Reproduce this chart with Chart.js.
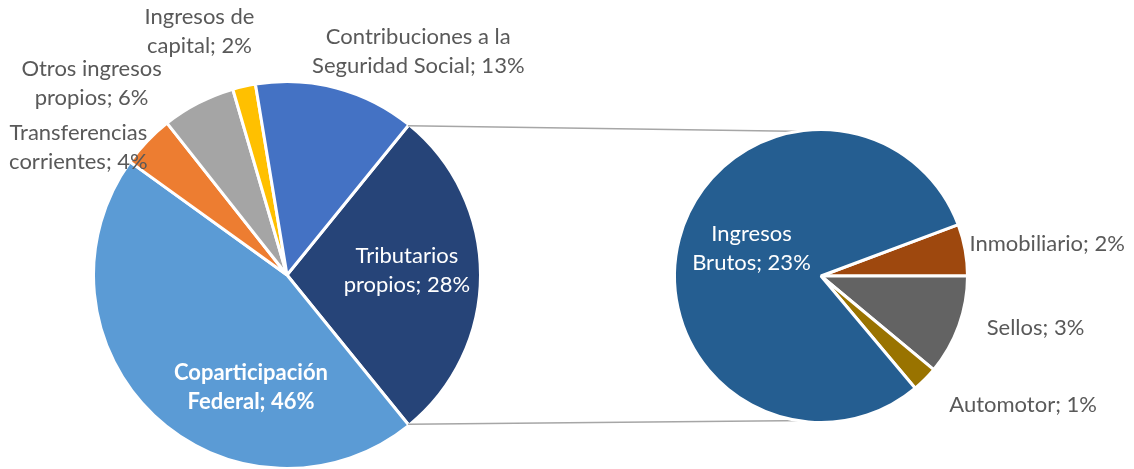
<!DOCTYPE html>
<html lang="es">
<head>
<meta charset="UTF-8">
<title>Composición de los ingresos</title>
<script src="https://cdn.jsdelivr.net/npm/chart.js@4.4.1/dist/chart.umd.min.js"></script>
<style>
  body { margin: 0; background: #fff; }
  .wrap { position: relative; width: 1134px; height: 469px; }
  .wrap canvas { position: absolute; left: 0; top: 0; }
</style>
</head>
<body>
<div class="wrap">
  <canvas id="mainPie" width="1134" height="469"></canvas>
  <canvas id="detailPie" width="1134" height="469"></canvas>
</div>
<script>
// Torta principal: % sobre el total de ingresos
const mainLabels = [
  ['Tributarios', 'propios'],
  ['Coparticipación', 'Federal'],
  ['Transferencias', 'corrientes'],
  ['Otros ingresos', 'propios'],
  ['Ingresos de', 'capital'],
  ['Contribuciones a la', 'Seguridad Social']
];
const mainValues = [28.2, 45.6, 4.4, 6.1, 1.9, 13.4];
const mainColors = ['#264478', '#5B9BD5', '#ED7D31', '#A5A5A5', '#FFC000', '#4472C4'];

// Apertura de "Tributarios propios" (también en % del total)
const detailLabels = ['Inmobiliario', 'Sellos', 'Automotor', ['Ingresos', 'Brutos']];
const detailValues = [1.6, 3.1, 0.8, 22.6];
const detailColors = ['#9E480E', '#636363', '#997300', '#255E91'];

const FONT_SIZE = 22;
const LINE_H = 29;
const GREY = '#595959';

// ubicación de etiquetas: distancia (x radio) y giro respecto del ángulo medio
const mainPlace = [
  { r: 0.62, shift: -2, color: '#fff' },
  { r: 0.61, shift: -25.6, color: '#fff', bold: true },
  { r: 1.265, shift: -12.2 },
  { r: 1.414, shift: -18.3 },
  { r: 1.34, shift: -6.9 },
  { r: 1.34, shift: 15.6 }
];
const detailPlace = [
  { r: 1.037, shift: -2, align: 'left' },
  { r: 1.184, shift: -2.6, align: 'left' },
  { r: 1.239, shift: 0.2, align: 'left' },
  { r: 0.51, shift: 6.7, color: '#fff' }
];

function sliceLabels(place) {
  return {
    id: 'sliceLabels',
    afterDatasetsDraw(chart) {
      const ctx = chart.ctx;
      const values = chart.data.datasets[0].data;
      chart.getDatasetMeta(0).data.forEach((arc, i) => {
        const p = place[i];
        const ang = (arc.startAngle + arc.endAngle) / 2 + p.shift * Math.PI / 180;
        const dist = arc.outerRadius * p.r;
        const x = arc.x + Math.cos(ang) * dist;
        const y = arc.y + Math.sin(ang) * dist;
        const lines = [].concat(chart.data.labels[i]);
        lines[lines.length - 1] += '; ' + Math.round(values[i]) + '%';
        ctx.save();
        ctx.font = (p.bold ? 'bold ' : '') + FONT_SIZE + 'px Lato';
        ctx.fillStyle = p.color || GREY;
        ctx.textAlign = p.align || 'center';
        ctx.textBaseline = 'middle';
        const y0 = y - (lines.length - 1) * LINE_H / 2;
        lines.forEach((t, k) => ctx.fillText(t, x, y0 + k * LINE_H));
        ctx.restore();
      });
    }
  };
}

const mainChart = new Chart(document.getElementById('mainPie'), {
  type: 'pie',
  data: {
    labels: mainLabels,
    datasets: [{
      data: mainValues,
      backgroundColor: mainColors,
      borderColor: '#fff',
      borderWidth: 3,
      // la porción que se abre queda centrada a las 3 en punto
      rotation: 90 - 180 * mainValues[0] / mainValues.reduce((a, b) => a + b, 0),
      radius: 193.5
    }]
  },
  options: {
    responsive: false,
    animation: false,
    layout: { padding: { left: 80, right: 640, top: 81, bottom: 0 } },
    plugins: { legend: { display: false }, tooltip: { enabled: false } }
  },
  plugins: [sliceLabels(mainPlace)]
});

// líneas que unen la porción "Tributarios propios" con la torta secundaria
const connectors = {
  id: 'connectors',
  beforeDatasetsDraw(chart) {
    const src = mainChart.getDatasetMeta(0).data[0];
    const dst = chart.getDatasetMeta(0).data[0];
    const rs = src.outerRadius - 1.5;
    const rd = dst.outerRadius - 1.5;
    const a = 94.5 * Math.PI / 180;
    const ctx = chart.ctx;
    ctx.save();
    ctx.strokeStyle = '#A6A6A6';
    ctx.lineWidth = 1.5;
    ctx.beginPath();
    [[src.startAngle, -a], [src.endAngle, a]].forEach(([sa, da]) => {
      ctx.moveTo(src.x + rs * Math.cos(sa), src.y + rs * Math.sin(sa));
      ctx.lineTo(dst.x + rd * Math.cos(da), dst.y + rd * Math.sin(da));
    });
    ctx.stroke();
    ctx.restore();
  }
};

const detailChart = new Chart(document.getElementById('detailPie'), {
  type: 'pie',
  data: {
    labels: detailLabels,
    datasets: [{
      data: detailValues,
      backgroundColor: detailColors,
      borderColor: '#fff',
      borderWidth: 3,
      rotation: 69.5,
      radius: 146.5
    }]
  },
  options: {
    responsive: false,
    animation: false,
    layout: { padding: { left: 660, right: 152, top: 83, bottom: 0 } },
    plugins: { legend: { display: false }, tooltip: { enabled: false } }
  },
  plugins: [connectors, sliceLabels(detailPlace)]
});
</script>
</body>
</html>
